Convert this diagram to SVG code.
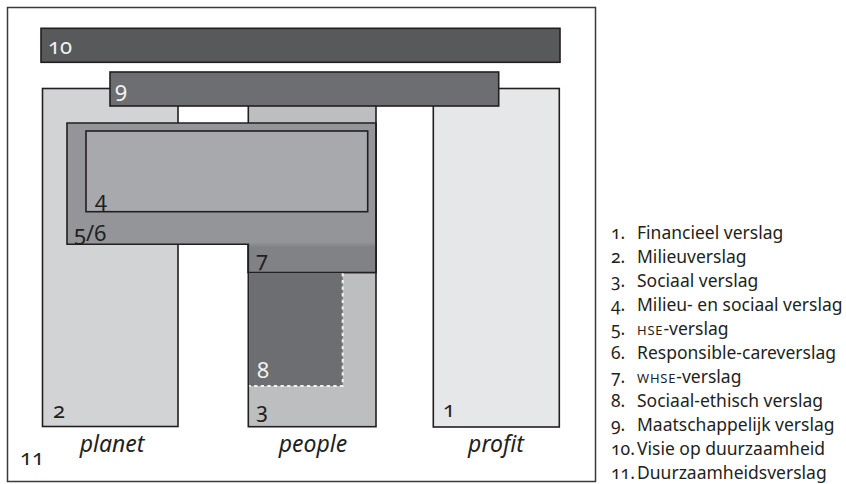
<svg xmlns="http://www.w3.org/2000/svg" width="846" height="484" viewBox="0 0 846 484">
  <style>
    .box { stroke: #231f20; stroke-width: 1.6; }
    .num { font-family: "Noto Sans", "Open Sans", sans-serif; font-size: 22px; font-variant-numeric: oldstyle-nums; fill: #231f20; }
    .light { fill: #f1f2f2; }
    .pillar { font-family: "Noto Sans", "Open Sans", sans-serif; font-style: italic; font-size: 23px; fill: #231f20; text-anchor: middle; }
    .leg { font-family: "Noto Sans", "Open Sans", sans-serif; font-size: 17.5px; font-variant-numeric: oldstyle-nums; fill: #231f20; }
    .sc { font-size: 13px; letter-spacing: 0.8px; }
  </style>
  <defs>
    <linearGradient id="fade7" x1="0" y1="0" x2="0" y2="1">
      <stop offset="0" stop-color="#939598"/>
      <stop offset="1" stop-color="#808285"/>
    </linearGradient>
  </defs>

  <!-- 11: outer frame -->
  <g id="n11">
    <rect x="7.5" y="7.5" width="588" height="474" fill="#ffffff" stroke="#3a3a3a" stroke-width="1.5"/>
    <text class="num" x="20" y="465">11</text>
  </g>

  <!-- 2: planet pillar -->
  <g id="n2">
    <rect class="box" x="42.5" y="88.5" width="135.5" height="338" fill="#d1d3d4"/>
    <text class="num" x="53" y="418">2</text>
  </g>

  <!-- 3: people pillar -->
  <g id="n3">
    <rect class="box" x="248.3" y="100" width="127.7" height="326.7" fill="#bcbec0"/>
    <text class="num" x="256" y="418">3</text>
  </g>

  <!-- 1: profit pillar -->
  <g id="n1">
    <rect class="box" x="433.3" y="88.5" width="126" height="338.5" fill="#e6e7e8"/>
    <text class="num" x="443" y="417">1</text>
  </g>

  <!-- 10: vision bar -->
  <g id="n10">
    <rect class="box" x="41" y="28.3" width="519" height="34" fill="#58595b"/>
    <text class="num light" x="48" y="53.5">10</text>
  </g>

  <!-- 9: social report bar -->
  <g id="n9">
    <rect class="box" x="110" y="72" width="388.7" height="34" fill="#6d6e71"/>
    <text class="num light" x="115" y="97">9</text>
  </g>

  <!-- 5/6 with 7 extension -->
  <g id="n56">
    <path class="box" d="M67 123 H376 V272.5 H248.3 V244.3 H67 Z" fill="#939598"/>
    <text class="num" x="74" y="240.5">5/6</text>
  </g>

  <!-- 7: WHSE report -->
  <g id="n7">
    <rect x="249.1" y="242" width="126.1" height="30" fill="#808285"/>
    <rect x="249.1" y="242" width="126.1" height="5" fill="url(#fade7)"/>
    <path d="M248.3 244.3 V272.5 H376" fill="none" stroke="#231f20" stroke-width="1.6"/>
    <line x1="376" y1="123" x2="376" y2="272.5" stroke="#231f20" stroke-width="1.6"/>
    <text class="num" x="256" y="267">7</text>
  </g>

  <!-- 4: environment and social report -->
  <g id="n4">
    <rect class="box" x="86" y="131" width="281.7" height="80.7" fill="#a7a9ac"/>
    <text class="num" x="95" y="207">4</text>
  </g>

  <!-- 8: socio-ethical report -->
  <g id="n8">
    <rect x="249.1" y="273.3" width="93.6" height="112.7" fill="#6d6e71"/>
    <path d="M342.7 273.3 V386 H249.1" fill="none" stroke="#f1f2f2" stroke-width="2" stroke-dasharray="3.3 3.3"/>
    <text class="num light" x="257" y="378">8</text>
  </g>

  <!-- pillar captions -->
  <g id="captions">
    <text class="pillar" x="112" y="452">planet</text>
    <text class="pillar" x="313" y="452">people</text>
    <text class="pillar" x="496" y="452">profit</text>
  </g>

  <!-- legend -->
  <g id="legend">
    <text class="leg" x="611" y="239">1.</text><text class="leg" x="637" y="239">Financieel verslag</text>
    <text class="leg" x="611" y="263">2.</text><text class="leg" x="637" y="263">Milieuverslag</text>
    <text class="leg" x="611" y="287">3.</text><text class="leg" x="637" y="287">Sociaal verslag</text>
    <text class="leg" x="611" y="311">4.</text><text class="leg" x="637" y="311">Milieu- en sociaal verslag</text>
    <text class="leg" x="611" y="335">5.</text><text class="leg" x="637" y="335"><tspan class="sc">HSE</tspan>-verslag</text>
    <text class="leg" x="611" y="359">6.</text><text class="leg" x="637" y="359">Responsible-careverslag</text>
    <text class="leg" x="611" y="383">7.</text><text class="leg" x="637" y="383"><tspan class="sc">WHSE</tspan>-verslag</text>
    <text class="leg" x="611" y="407">8.</text><text class="leg" x="637" y="407">Sociaal-ethisch verslag</text>
    <text class="leg" x="611" y="431">9.</text><text class="leg" x="637" y="431">Maatschappelijk verslag</text>
    <text class="leg" x="611" y="455">10.</text><text class="leg" x="637" y="455">Visie op duurzaamheid</text>
    <text class="leg" x="611" y="479">11.</text><text class="leg" x="637" y="479">Duurzaamheidsverslag</text>
  </g>
</svg>
